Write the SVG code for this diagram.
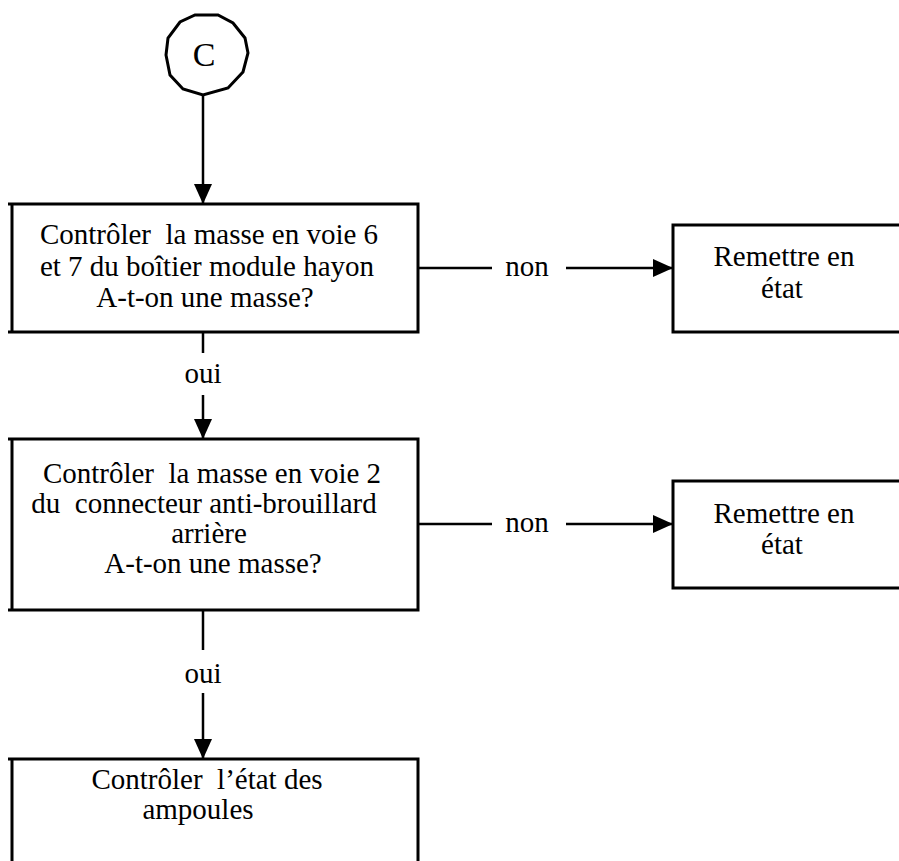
<svg xmlns="http://www.w3.org/2000/svg" width="899" height="861" viewBox="0 0 899 861">
<style>
.box{fill:none;stroke:#000;stroke-width:3}
.ln{fill:none;stroke:#000;stroke-width:2.5}
text{font-family:"Liberation Serif","Times New Roman",serif;font-size:29px;fill:#000;text-anchor:middle;white-space:pre}
</style>
<defs>
<marker id="ah" markerUnits="userSpaceOnUse" markerWidth="20" markerHeight="18" refX="20" refY="9" orient="auto" viewBox="0 0 20 18">
<path d="M0,0 L20,9 L0,18 z" fill="#000"/>
</marker>
</defs>
<rect width="899" height="861" fill="#fff"/>
<g id="start">
<polygon class="box" points="195,15 218,15 233,23 245,38 248,53 243,72 228,88 203,95 183,89 170,75 166,55 168,38 180,22"/>
<text x="204" y="66" style="font-size:34px">C</text>
</g>
<g id="check1">
<path class="box" d="M8,204 H418 V332 H8 M12,204 V332"/>
<text x="209" y="244" xml:space="preserve">Contrôler  la masse en voie 6</text>
<text x="207" y="276">et 7 du boîtier module hayon</text>
<text x="205" y="307">A-t-on une masse?</text>
</g>
<g id="repair1">
<path class="box" d="M905,225 H673 V332 H905"/>
<text x="784" y="266">Remettre en</text>
<text x="782" y="298">état</text>
</g>
<g id="check2">
<path class="box" d="M8,439 H418 V610 H8 M12,439 V610"/>
<text x="212" y="483" xml:space="preserve">Contrôler  la masse en voie 2</text>
<text x="204" y="513" xml:space="preserve">du  connecteur anti-brouillard</text>
<text x="209" y="543">arrière</text>
<text x="213" y="573">A-t-on une masse?</text>
</g>
<g id="repair2">
<path class="box" d="M905,481 H673 V588 H905"/>
<text x="784" y="523">Remettre en</text>
<text x="782" y="554">état</text>
</g>
<g id="check3">
<path class="box" d="M8,759 H418 V870 M12,759 V870"/>
<text x="207" y="789" xml:space="preserve">Contrôler  l’état des</text>
<text x="198" y="819">ampoules</text>
</g>
<g id="connectors">
<path class="ln" d="M203,95 V204" marker-end="url(#ah)"/>
<path class="ln" d="M203,332 V353"/>
<path class="ln" d="M203,395 V439" marker-end="url(#ah)"/>
<text x="203" y="383">oui</text>
<path class="ln" d="M203,610 V650"/>
<path class="ln" d="M203,693 V759" marker-end="url(#ah)"/>
<text x="203" y="683">oui</text>
<path class="ln" d="M418,268 H492"/>
<path class="ln" d="M566,268 H673" marker-end="url(#ah)"/>
<text x="527" y="276">non</text>
<path class="ln" d="M418,524 H492"/>
<path class="ln" d="M566,524 H673" marker-end="url(#ah)"/>
<text x="527" y="532">non</text>
</g>
</svg>
